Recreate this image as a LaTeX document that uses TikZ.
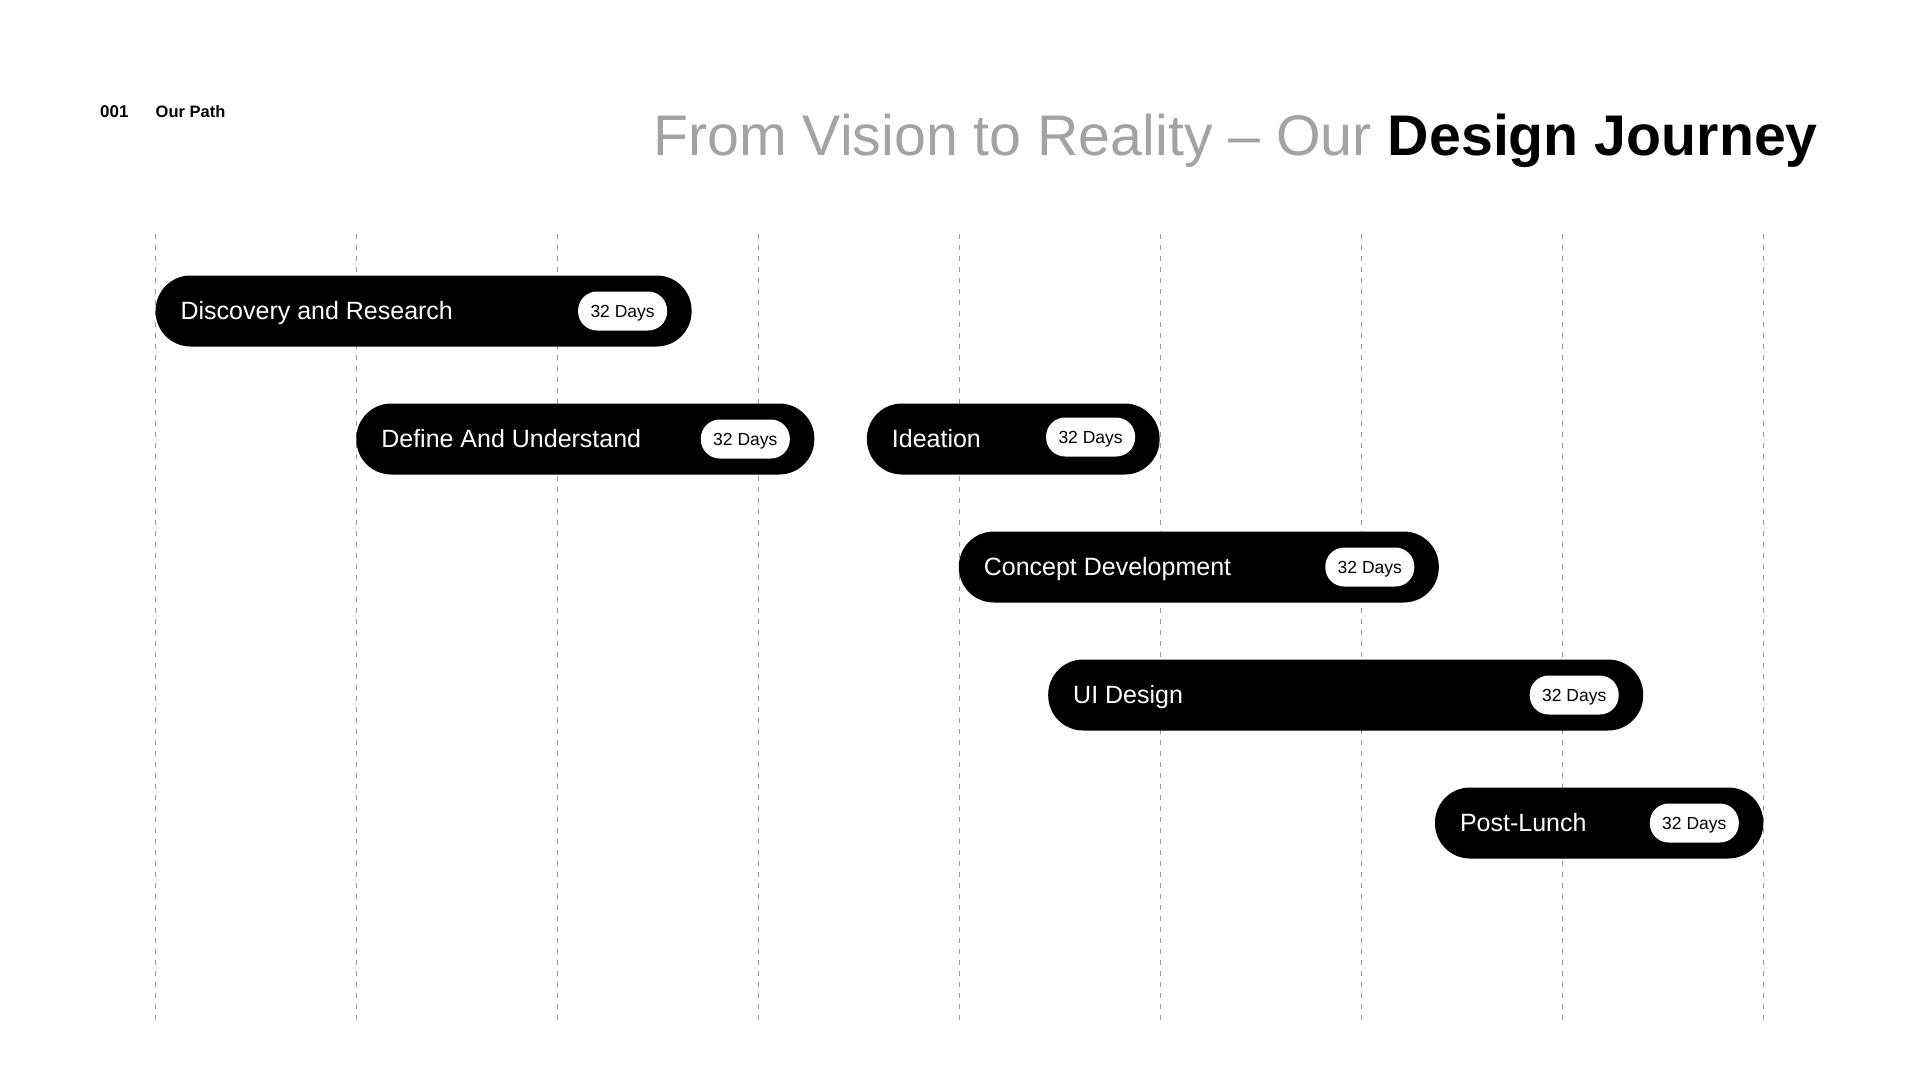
\documentclass[tikz,border=0pt]{standalone}
\usepackage{fontspec}
\setmainfont{Liberation Sans}
\definecolor{titlegray}{HTML}{A3A3A3}
\definecolor{gridgray}{HTML}{9A9A9A}
\begin{document}
\begin{tikzpicture}[x=1pt,y=-1pt,
  gridline/.style={draw=gridgray,line width=1.4pt,dash pattern=on 5pt off 6pt},
  barbox/.style={fill=black,rounded corners=35pt,minimum height=71pt,inner sep=0pt},
  barlabel/.style={text=white,font=\fontsize{25}{30}\selectfont,anchor=west,inner sep=0pt,text height=17.9pt,text depth=0pt},
  pillbox/.style={fill=white,rounded corners=19pt,minimum height=39pt,minimum width=89pt,inner sep=0pt,text height=12.5pt,text depth=0pt,font=\fontsize{17.5}{20}\selectfont,anchor=east}
]
\useasboundingbox (0,0) rectangle (1920,1080);
\fill[white] (0,0) rectangle (1920,1080);

% header
\node[anchor=west,inner sep=0pt,text height=12.2pt,text depth=0pt,font=\fontsize{17}{20}\selectfont\bfseries] (num) at (100,111.5) {001};
\node[anchor=west,inner sep=0pt,text height=12pt,text depth=0pt,font=\fontsize{16.5}{20}\selectfont\bfseries] (sect) at (155.5,111.5) {Our Path};
\node[anchor=base east,inner sep=0pt,font=\fontsize{57.3}{64}\selectfont] (title) at (1818,155) {\textcolor{titlegray}{From Vision to Reality – Our }\textbf{Design Journey}};

% grid
\foreach \i in {0,...,8}{
  \draw[gridline] (155.5+201*\i,234) -- (155.5+201*\i,1022);
}

% bars
\node[barbox,minimum width=536pt] (b1) at (423.6,311) {};
\node[barlabel] (l1) at ([xshift=25pt]b1.west) {Discovery and Research};
\node[pillbox] (p1) at ([xshift=-24.5pt]b1.east) {32 Days};

\node[barbox,minimum width=458pt] (b2) at (585.3,439) {};
\node[barlabel] (l2) at ([xshift=25pt]b2.west) {Define And Understand};
\node[pillbox] (p2) at ([xshift=-24.5pt]b2.east) {32 Days};

\node[barbox,minimum width=292.7pt] (b3) at (1013.25,439) {};
\node[barlabel] (l3) at ([xshift=25pt]b3.west) {Ideation};
\node[pillbox] (p3) at ([xshift=-24.5pt,yshift=2pt]b3.east) {32 Days};

\node[barbox,minimum width=480pt] (b4) at (1198.8,567) {};
\node[barlabel] (l4) at ([xshift=25pt]b4.west) {Concept Development};
\node[pillbox] (p4) at ([xshift=-24.5pt]b4.east) {32 Days};

\node[barbox,minimum width=595pt] (b5) at (1345.7,695) {};
\node[barlabel] (l5) at ([xshift=25pt]b5.west) {UI Design};
\node[pillbox] (p5) at ([xshift=-24.5pt]b5.east) {32 Days};

\node[barbox,minimum width=328.3pt] (b6) at (1599.15,823) {};
\node[barlabel] (l6) at ([xshift=25pt]b6.west) {Post-Lunch};
\node[pillbox] (p6) at ([xshift=-24.5pt]b6.east) {32 Days};
\end{tikzpicture}
\end{document}
